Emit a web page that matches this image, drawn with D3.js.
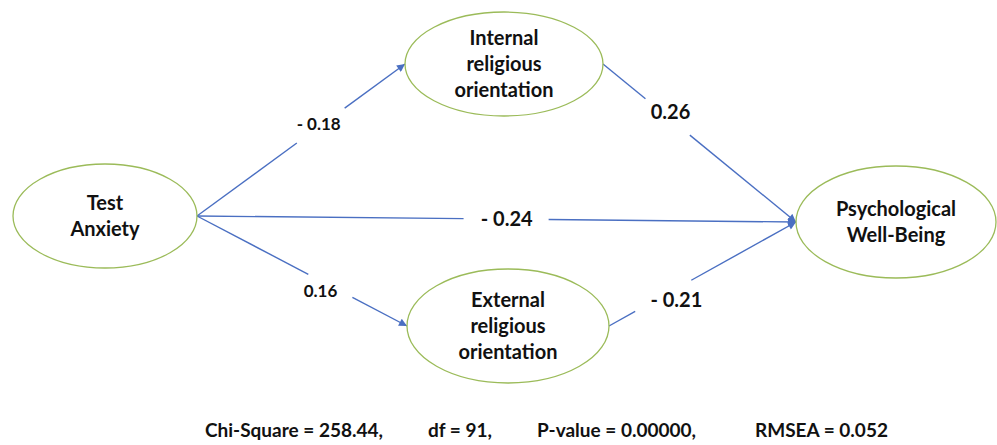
<!DOCTYPE html>
<html>
<head>
<meta charset="utf-8">
<script src="https://cdn.jsdelivr.net/npm/d3@7"></script>
<style>
  body { margin: 0; background: #fff; }
  svg { display: block; font-family: Lato, "Open Sans", sans-serif; font-weight: 700; }
</style>
</head>
<body>
<script>
// latent variables of the path model
const nodes = ["Test Anxiety", "Internal religious orientation", "External religious orientation", "Psychological Well-Being"];
const nodeLines = [["Test", "Anxiety"], ["Internal", "religious", "orientation"], ["External", "religious", "orientation"], ["Psychological", "Well-Being"]];

// structural paths and standardized coefficients
const pathFrom = ["Test Anxiety", "Test Anxiety", "Test Anxiety", "Internal religious orientation", "External religious orientation"];
const pathTo = ["Internal religious orientation", "Psychological Well-Being", "External religious orientation", "Psychological Well-Being", "Psychological Well-Being"];
const pathCoef = [-0.18, -0.24, 0.16, 0.26, -0.21];

// fit indices
const fitNames = ["Chi-Square", "df", "P-value", "RMSEA"];
const fitValues = ["258.44", "91", "0.00000", "0.052"];

const width = 997, height = 445;

const svg = d3.select("body").append("svg")
    .attr("width", width)
    .attr("height", height);

// node layout
const cx = d3.scaleOrdinal().domain(nodes).range([105, 504, 508, 896]);
const cy = d3.scaleOrdinal().domain(nodes).range([216, 64, 326, 222]);
const rx = d3.scaleOrdinal().domain(nodes).range([92, 99, 101, 100]);
const ry = d3.scaleOrdinal().domain(nodes).range([52, 52, 57, 56]);

const lineColor = "#4a6fc2";
const ellipseColor = "#9bbb59";

svg.append("defs").append("marker")
    .attr("id", "arrow")
    .attr("viewBox", "0 0 10 10")
    .attr("refX", 10)
    .attr("refY", 5)
    .attr("markerUnits", "userSpaceOnUse")
    .attr("markerWidth", 9)
    .attr("markerHeight", 8)
    .attr("orient", "auto")
    .append("path")
    .attr("d", "M0,0 L10,5 L0,10 Z")
    .attr("fill", lineColor);

const fmt = d3.format(".2f");
const coefText = v => v < 0 ? "- " + fmt(-v) : fmt(v);

// where each line is broken for its label (fraction along the line) and label offset
const gapT = [[0.48, 0.71], [0.445, 0.587], [0.53, 0.74], [0.22, 0.45], [0.14, 0.44]];
const labelT = [0.585, 0.517, 0.588, 0.35, 0.36];
const labelDy = [-3, 0, 10, -7, 11];
const labelSize = [17, 20, 17, 20, 20];

const edges = pathCoef.map((c, i) => {
  const a = pathFrom[i], b = pathTo[i];
  return {
    x1: cx(a) + rx(a), y1: cy(a),
    x2: cx(b) - rx(b), y2: cy(b),
    coef: c, i
  };
});
const at = (e, t) => [e.x1 + (e.x2 - e.x1) * t, e.y1 + (e.y2 - e.y1) * t];

const edgeG = svg.append("g");
edges.forEach(e => {
  const g0 = at(e, gapT[e.i][0]), g1 = at(e, gapT[e.i][1]);
  edgeG.append("line")
      .attr("x1", e.x1).attr("y1", e.y1)
      .attr("x2", g0[0]).attr("y2", g0[1])
      .attr("stroke", lineColor).attr("stroke-width", 1.4);
  edgeG.append("line")
      .attr("x1", g1[0]).attr("y1", g1[1])
      .attr("x2", e.x2).attr("y2", e.y2)
      .attr("stroke", lineColor).attr("stroke-width", 1.4)
      .attr("marker-end", "url(#arrow)");
  const p = at(e, labelT[e.i]);
  edgeG.append("text")
      .attr("x", p[0])
      .attr("y", p[1] + labelDy[e.i])
      .attr("dy", "0.35em")
      .attr("text-anchor", "middle")
      .style("font-size", labelSize[e.i] + "px")
      .style("fill", "#111")
      .text(coefText(e.coef));
});

// ellipses
const nodeG = svg.selectAll("g.node")
  .data(nodes)
  .enter().append("g")
  .attr("class", "node");

nodeG.append("ellipse")
    .attr("cx", d => cx(d))
    .attr("cy", d => cy(d))
    .attr("rx", d => rx(d))
    .attr("ry", d => ry(d))
    .attr("fill", "none")
    .attr("stroke", ellipseColor)
    .attr("stroke-width", 1.3);

const lh = 26;
nodeG.each(function(d, i) {
  const lines = nodeLines[i];
  const t = d3.select(this).append("text")
      .attr("text-anchor", "middle")
      .style("font-size", "20px")
      .style("fill", "#111");
  lines.forEach((s, k) => {
    t.append("tspan")
        .attr("x", cx(d))
        .attr("y", cy(d) + (k - (lines.length - 1) / 2) * lh)
        .attr("dy", "0.35em")
        .text(s);
  });
});

// fit statistics line
const fitX = [205, 428, 537, 755];
const fitText = svg.append("text")
    .attr("y", 437)
    .style("font-size", "19px")
    .style("fill", "#111");
fitNames.forEach((n, i) => {
  fitText.append("tspan")
      .attr("x", fitX[i])
      .text(n + " = " + fitValues[i] + (i < fitNames.length - 1 ? "," : ""));
});
</script>
</body>
</html>
